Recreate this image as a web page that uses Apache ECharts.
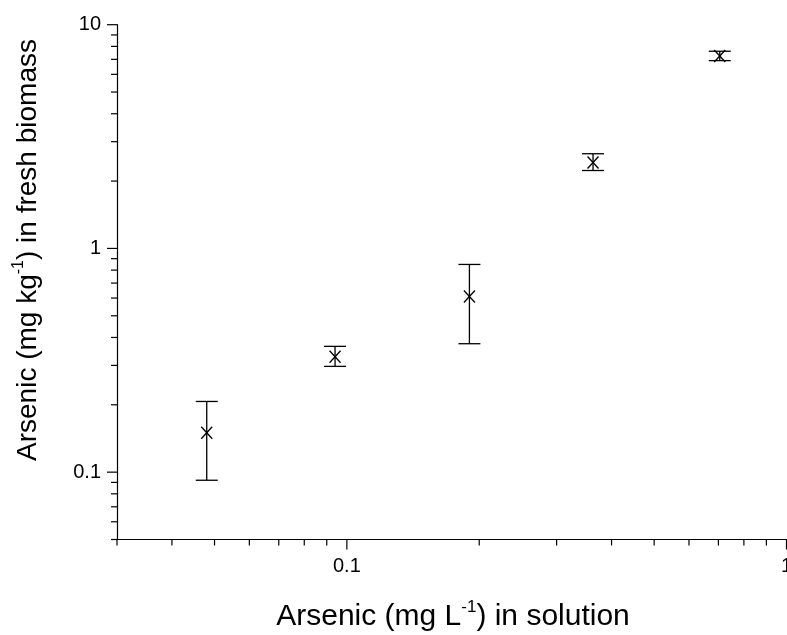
<!DOCTYPE html>
<html>
<head>
<meta charset="utf-8">
<script src="https://cdn.jsdelivr.net/npm/echarts@6/dist/echarts.min.js"></script>
<style>
html,body{margin:0;padding:0;background:#fff;}
#chart{width:787px;height:635px;}
</style>
</head>
<body>
<div id="chart"></div>
<script>
// ---- data ----
const xValues = [0.048, 0.094, 0.19, 0.363, 0.705];
const yValues = [0.150, 0.328, 0.610, 2.42, 7.25];
const yLow    = [0.092, 0.297, 0.375, 2.23, 6.91];
const yHigh   = [0.207, 0.365, 0.848, 2.65, 7.61];

const xRange = [0.03, 1];
const yRange = [0.05, 10];
const xMajorTicks = [0.1, 1];
const xMinorTicks = [0.03, 0.04, 0.05, 0.06, 0.07, 0.08, 0.09, 0.2, 0.3, 0.4, 0.5, 0.6, 0.7, 0.8, 0.9];
const yMajorTicks = [0.1, 1, 10];
const yMinorTicks = [0.05, 0.06, 0.07, 0.08, 0.09, 0.2, 0.3, 0.4, 0.5, 0.6, 0.7, 0.8, 0.9, 2, 3, 4, 5, 6, 7, 8, 9];

const xTitle = ['Arsenic (mg L', '-1', ') in solution'];
const yTitle = ['Arsenic (mg kg', '-1', ') in fresh biomass'];

// ---- chart ----
const FONT = '"Liberation Sans", Arial, Helvetica, sans-serif';
const chart = echarts.init(document.getElementById('chart'), null, {renderer: 'canvas'});

function tickSeries(values, isX, len) {
  return {
    type: 'custom',
    coordinateSystem: 'cartesian2d',
    clip: false,
    silent: true,
    z: 5,
    data: values.map(v => isX ? [v, yRange[0]] : [xRange[0], v]),
    renderItem: function (params, api) {
      const p = api.coord([api.value(0), api.value(1)]);
      const shape = isX
        ? {x1: p[0], y1: p[1], x2: p[0], y2: p[1] + len}
        : {x1: p[0], y1: p[1], x2: p[0] - len, y2: p[1]};
      return {type: 'line', shape: shape, style: {stroke: '#000', lineWidth: 1.2}};
    }
  };
}

const errData = xValues.map((x, i) => [x, yValues[i], yLow[i], yHigh[i]]);

const option = {
  backgroundColor: '#ffffff',
  animation: false,
  grid: {left: 117, right: 0.5, top: 24.7, bottom: 95.5, containLabel: false, outerBoundsMode: 'none'},
  xAxis: {
    type: 'log',
    logBase: 10,
    min: xRange[0],
    max: xRange[1],
    axisLine: {show: true, lineStyle: {color: '#000', width: 1.2}},
    axisTick: {show: false},
    splitLine: {show: false},
    axisLabel: {
      showMinLabel: false,
      hideOverlap: false,
      margin: 17,
      color: '#000',
      fontSize: 20,
      fontFamily: FONT
    }
  },
  yAxis: {
    type: 'log',
    logBase: 10,
    min: yRange[0],
    max: yRange[1],
    axisLine: {show: true, lineStyle: {color: '#000', width: 1.2}},
    axisTick: {show: false},
    splitLine: {show: false},
    axisLabel: {
      showMinLabel: false,
      margin: 16,
      color: '#000',
      fontSize: 20,
      fontFamily: FONT
    }
  },
  graphic: [
    {
      type: 'text',
      x: 453, y: 617,
      style: {
        text: '{a|' + xTitle[0] + '}{s|' + xTitle[1] + '}{a|' + xTitle[2] + '}',
        align: 'center', verticalAlign: 'middle',
        rich: {
          a: {fontSize: 30, fontFamily: FONT, fill: '#000', lineHeight: 36},
          s: {fontSize: 17, fontFamily: FONT, fill: '#000', verticalAlign: 'top', lineHeight: 36}
        }
      }
    },
    {
      type: 'text',
      x: 28, y: 250,
      rotation: Math.PI / 2,
      style: {
        text: '{a|' + yTitle[0] + '}{s|' + yTitle[1] + '}{a|' + yTitle[2] + '}',
        align: 'center', verticalAlign: 'middle',
        rich: {
          a: {fontSize: 28, fontFamily: FONT, fill: '#000', lineHeight: 34},
          s: {fontSize: 16, fontFamily: FONT, fill: '#000', verticalAlign: 'top', lineHeight: 34}
        }
      }
    }
  ],
  series: [
    tickSeries(xMajorTicks, true, 10),
    tickSeries(xMinorTicks, true, 6),
    tickSeries(yMajorTicks, false, 10),
    tickSeries(yMinorTicks, false, 6),
    {
      type: 'custom',
      coordinateSystem: 'cartesian2d',
      clip: false,
      z: 10,
      data: errData,
      renderItem: function (params, api) {
        const p = api.coord([api.value(0), api.value(1)]);
        const lo = api.coord([api.value(0), api.value(2)]);
        const hi = api.coord([api.value(0), api.value(3)]);
        const cap = 11, mx = 5.5, my = 6;
        const st = {stroke: '#000', lineWidth: 1.3};
        return {
          type: 'group',
          children: [
            {type: 'line', shape: {x1: hi[0], y1: hi[1], x2: lo[0], y2: lo[1]}, style: st},
            {type: 'line', shape: {x1: hi[0] - cap, y1: hi[1], x2: hi[0] + cap, y2: hi[1]}, style: st},
            {type: 'line', shape: {x1: lo[0] - cap, y1: lo[1], x2: lo[0] + cap, y2: lo[1]}, style: st},
            {type: 'line', shape: {x1: p[0] - mx, y1: p[1] - my, x2: p[0] + mx, y2: p[1] + my}, style: st},
            {type: 'line', shape: {x1: p[0] - mx, y1: p[1] + my, x2: p[0] + mx, y2: p[1] - my}, style: st}
          ]
        };
      }
    }
  ]
};
chart.setOption(option);
</script>
</body>
</html>
